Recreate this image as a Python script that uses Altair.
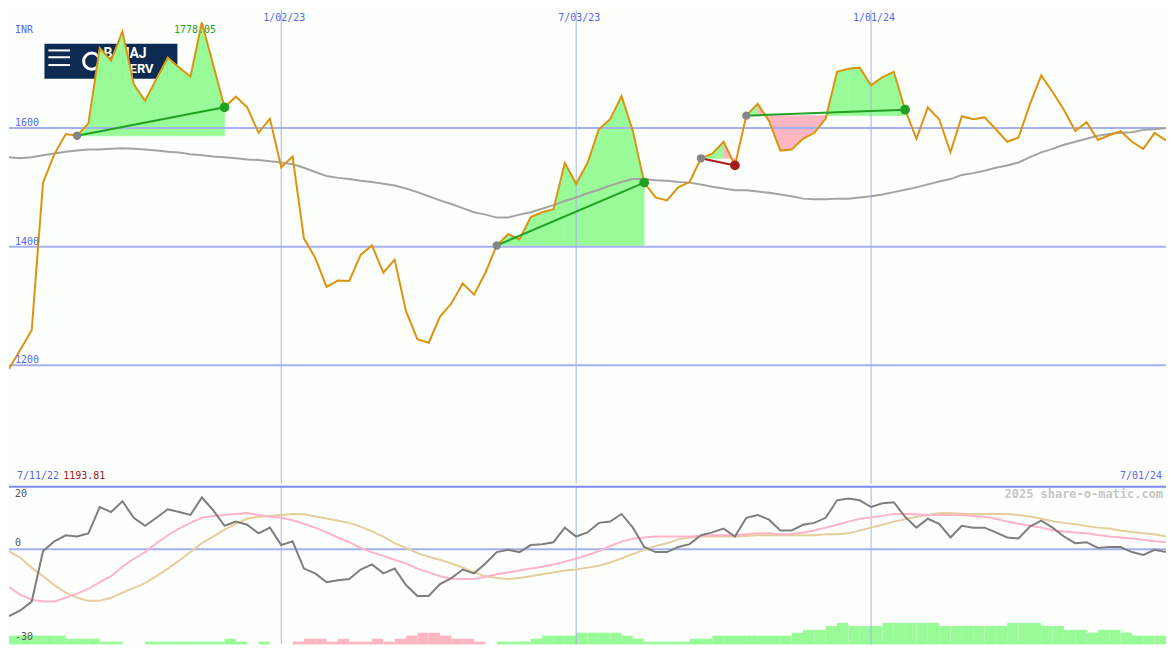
import altair as alt
import pandas as pd

# ---------------- data (weekly, index 0..102) ----------------
price = [1193.81, 1226, 1259, 1508, 1556, 1590, 1587, 1608, 1735, 1714,
         1763, 1674, 1646, 1683, 1719, 1702, 1687, 1778.05, 1707, 1635,
         1653, 1635, 1592, 1616, 1534, 1552, 1414, 1381, 1332, 1343,
         1342, 1386, 1402, 1356, 1378, 1291, 1244, 1238, 1282, 1304,
         1338, 1319, 1356, 1402, 1421, 1412, 1450, 1458, 1463, 1541,
         1506, 1541, 1598, 1615, 1654, 1595, 1508, 1483, 1478, 1500,
         1509, 1549, 1557, 1577, 1537, 1621, 1641, 1612, 1562, 1564,
         1582, 1592, 1616, 1695, 1700, 1702, 1672, 1686, 1695, 1631,
         1582, 1635, 1615, 1559, 1620, 1615, 1618, 1598, 1577, 1584,
         1640, 1689, 1661, 1631, 1595, 1610, 1580, 1588, 1595, 1577,
         1565, 1592, 1579]

ma40 = [1551, 1549, 1551, 1554, 1557, 1560, 1562, 1564, 1564, 1565,
        1566, 1565, 1564, 1562, 1560, 1559, 1556, 1554, 1552, 1551,
        1549, 1547, 1546, 1544, 1542, 1539, 1533, 1526, 1519, 1516,
        1514, 1511, 1509, 1506, 1503, 1498, 1492, 1485, 1478, 1472,
        1465, 1458, 1454, 1449, 1449, 1454, 1458, 1464, 1470, 1477,
        1483, 1490, 1496, 1503, 1509, 1514, 1514, 1512, 1511, 1509,
        1508, 1505, 1501, 1498, 1495, 1495, 1493, 1491, 1488, 1485,
        1481, 1480, 1480, 1481, 1481, 1483, 1485, 1488, 1492, 1496,
        1500, 1505, 1510, 1514, 1521, 1524, 1528, 1533, 1537, 1542,
        1551, 1559, 1565, 1572, 1577, 1582, 1587, 1590, 1592, 1593,
        1597, 1598, 1600]

osc = [-21.1, -19.3, -16.5, -0.6, 2.5, 4.4, 4.0, 5.0, 13.3, 11.7,
       15.1, 9.9, 7.4, 9.9, 12.6, 11.7, 10.8, 16.3, 12.3, 7.4,
       8.7, 7.7, 5.0, 6.8, 1.3, 2.5, -6.1, -7.6, -10.4, -9.8,
       -9.4, -6.4, -4.8, -7.6, -6.1, -11.3, -14.7, -14.7, -11.0, -9.1,
       -6.4, -7.6, -4.5, -0.9, -0.2, -0.9, 1.3, 1.6, 2.2, 6.8,
       4.0, 5.3, 8.3, 8.7, 11.1, 6.8, 0.7, -0.9, -0.9, 0.7,
       1.6, 4.4, 5.3, 6.5, 4.0, 9.9, 10.8, 9.3, 5.9, 5.9,
       7.7, 8.3, 9.9, 15.4, 16.0, 15.4, 13.3, 14.5, 14.8, 10.2,
       6.8, 9.6, 8.0, 3.7, 7.4, 6.8, 6.8, 5.3, 3.7, 3.4,
       7.1, 9.0, 6.8, 4.0, 1.9, 2.2, 0.4, 0.7, 0.7, -0.9,
       -1.8, -0.2, -0.9]

osc_fast = [-11.9, -14.4, -15.9, -16.5, -16.5, -15.3, -14.0, -12.5, -10.4, -8.5,
            -5.5, -3.0, -0.9, 1.9, 4.4, 6.5, 8.3, 9.9, 10.5, 10.8,
            11.1, 11.4, 10.8, 10.3, 9.9, 9.1, 8.0, 6.8, 5.3, 3.7,
            2.2, 0.4, -1.0, -2.1, -3.3, -4.5, -6.1, -7.3, -8.5, -9.3,
            -9.4, -9.4, -8.7, -7.9, -7.3, -6.7, -6.1, -5.5, -4.8, -3.9,
            -3.0, -1.8, -0.6, 1.0, 2.4, 3.3, 3.7, 4.0, 4.0, 4.0,
            4.0, 4.2, 4.4, 4.4, 4.4, 4.7, 5.0, 5.0, 4.7, 4.8,
            5.3, 5.9, 6.8, 7.7, 8.7, 9.6, 10.0, 10.5, 11.1, 11.1,
            11.0, 10.8, 10.8, 10.8, 10.8, 10.5, 10.2, 9.6, 8.7, 8.0,
            7.4, 6.8, 6.0, 5.6, 5.3, 5.0, 4.5, 4.0, 3.7, 3.4,
            3.0, 2.5, 2.2]

osc_slow = [-0.6, -2.7, -5.8, -8.5, -11.3, -13.7, -15.3, -16.2, -16.2, -15.3,
            -13.7, -12.2, -10.7, -8.5, -6.1, -3.6, -0.9, 1.9, 4.0, 6.2,
            8.0, 9.6, 10.2, 10.5, 10.8, 11.1, 11.0, 10.3, 9.7, 9.0,
            8.3, 7.1, 5.6, 4.0, 1.9, 0.4, -1.2, -2.4, -3.3, -4.5,
            -5.8, -7.3, -8.5, -9.1, -9.4, -9.1, -8.5, -7.9, -7.3, -6.7,
            -6.4, -5.8, -5.2, -4.2, -2.9, -1.5, -0.2, 1.0, 1.9, 3.1,
            3.7, 3.9, 4.0, 4.0, 4.0, 4.2, 4.4, 4.4, 4.4, 4.4,
            4.4, 4.4, 4.7, 4.7, 5.0, 5.9, 6.8, 7.7, 8.7, 9.4,
            10.2, 10.8, 11.3, 11.4, 11.1, 11.1, 11.1, 11.1, 11.1, 10.8,
            10.3, 9.6, 8.8, 8.3, 7.9, 7.3, 6.8, 6.5, 5.9, 5.4,
            5.0, 4.7, 4.0]

# histogram heights above the panel floor (negative = pink)
hist = [2.8, 2.8, 2.8, 2.8, 2.8, 1.8, 1.8, 1.8, 0.9, 0.9,
        0, 0, 0.9, 0.9, 0.9, 0.9, 0.9, 0.9, 0.9, 1.8,
        0.9, 0, 0.9, 0, 0,
        -0.9, -1.8, -1.8, -0.9, -1.8, -0.9, -0.9, -1.8, -0.9, -1.8,
        -2.8, -3.7, -3.7, -2.8, -1.8, -1.8, -0.9, 0,
        0.9, 0.9, 0.9, 1.8, 2.8, 2.8, 2.8, 3.7, 3.7, 3.7,
        3.7, 2.8, 1.8, 0.9, 0.9, 0.9, 0.9, 1.8, 1.8,
        2.8, 2.8, 2.8, 2.8, 2.8, 2.8, 2.8,
        3.7, 4.6, 4.6, 5.8, 6.75, 5.8, 5.8, 5.8, 6.75, 6.75,
        6.75, 6.75, 6.75, 5.8, 5.8, 5.8, 5.8, 5.8, 5.8, 6.75,
        6.75, 6.75, 5.8, 5.8, 4.6, 4.6, 3.7, 4.6, 4.6, 3.7,
        2.8, 2.8, 2.8]

seg_start = [6, 43, 61, 65]
seg_end = [19, 56, 64, 79]

grid_prices = [1200, 1400, 1600]
grid_price_labels = ["1200", "1400", "1600"]
grid_weeks = [24, 50, 76]
grid_dates = ["1/02/23", "7/03/23", "1/01/24"]

# ---------------- styling ----------------
W, H_TOP, H_BOT = 1159, 475, 159
SX, SY = W / 1175, (H_TOP + H_BOT) / 650
BG = "#FDFFFD"
GRID = "#A4B0F0"
SEP = "#7C88F2"
BLUE_TXT = "#5468EE"
ORANGE = "#DA9410"
MA_GRAY = "#A3A3A3"
GREEN_FILL = "#98FB98"
PINK_FILL = "#FFB6C1"
GREEN_LINE = "#22A022"
RED_LINE = "#A51C1C"
MONO = "DejaVu Sans Mono"

df = pd.DataFrame({"k": list(range(len(price))), "price": price, "ma": ma40,
                   "osc": osc, "fast": osc_fast, "slow": osc_slow})

xs = alt.Scale(domain=[0, 102], nice=False, zero=False)
ys = alt.Scale(domain=[1000, 1800], nice=False, zero=False)
bs = alt.Scale(domain=[-30, 20], nice=False, zero=False)
one = pd.DataFrame({"a": [0]})


def px(v):
    return alt.value(v * SX)


def py(v):
    return alt.value(v * SY)


def pyb(v):
    return alt.value((v - 487) * SY)


def label(text, x, y, color, align="left", size=10, weight="normal", bottom=False):
    return alt.Chart(one).mark_text(
        text=text, align=align, baseline="middle", font=MONO, fontSize=size,
        fontWeight=weight, color=color
    ).encode(x=px(x), y=(pyb(y) if bottom else py(y)))


# ---------------- top panel ----------------
fill_rows = []
for s, e in zip(seg_start, seg_end):
    base = price[s]
    for i in range(s, e):
        col = GREEN_FILL if price[i + 1] >= base else PINK_FILL
        for j in (i, i + 1):
            fill_rows.append({"k": j, "p": price[j], "b": base, "g": f"{s}-{i}", "c": col})
fills = alt.Chart(pd.DataFrame(fill_rows)).mark_area(interpolate="linear", strokeWidth=0.6, clip=True).encode(
    x=alt.X("k:Q", scale=xs, axis=None),
    y=alt.Y("p:Q", scale=ys, axis=None, stack=None),
    y2="b:Q",
    color=alt.Color("c:N", scale=None),
    stroke=alt.Stroke("c:N", scale=None),
    detail="g:N",
)

trend_rows, start_rows, end_rows = [], [], []
for s, e in zip(seg_start, seg_end):
    col = GREEN_LINE if price[e] >= price[s] else RED_LINE
    trend_rows += [{"k": s, "p": price[s], "g": s, "c": col}, {"k": e, "p": price[e], "g": s, "c": col}]
    start_rows.append({"k": s, "p": price[s]})
    end_rows.append({"k": e, "p": price[e], "c": col})

trend = alt.Chart(pd.DataFrame(trend_rows)).mark_line(strokeWidth=2).encode(
    x=alt.X("k:Q", scale=xs, axis=None), y=alt.Y("p:Q", scale=ys, axis=None),
    color=alt.Color("c:N", scale=None), detail="g:N")
start_pts = alt.Chart(pd.DataFrame(start_rows)).mark_circle(size=70, color="#858585", opacity=1).encode(
    x=alt.X("k:Q", scale=xs, axis=None), y=alt.Y("p:Q", scale=ys, axis=None))
end_pts = alt.Chart(pd.DataFrame(end_rows)).mark_circle(size=95, opacity=1).encode(
    x=alt.X("k:Q", scale=xs, axis=None), y=alt.Y("p:Q", scale=ys, axis=None),
    color=alt.Color("c:N", scale=None))

hgrid_df = pd.DataFrame({"p": grid_prices, "t": grid_price_labels})
vgrid_df = pd.DataFrame({"k": grid_weeks, "t": grid_dates})
hgrid = alt.Chart(hgrid_df).mark_rule(color=GRID, strokeWidth=2).encode(
    y=alt.Y("p:Q", scale=ys, axis=None))
hgrid_lbl = alt.Chart(hgrid_df).mark_text(align="left", baseline="alphabetic", dy=-2, font=MONO,
                                          fontSize=10, color=BLUE_TXT).encode(
    x=px(6), y=alt.Y("p:Q", scale=ys, axis=None), text="t:N")
vgrid = alt.Chart(vgrid_df).mark_rule(color=GRID, strokeWidth=1).encode(
    x=alt.X("k:Q", scale=xs, axis=None))
vgrid_lbl = alt.Chart(vgrid_df).mark_text(align="center", baseline="middle", dx=3, font=MONO,
                                          fontSize=10, color=BLUE_TXT).encode(
    x=alt.X("k:Q", scale=xs, axis=None), y=py(9), text="t:N")

# logo block
logo = [alt.Chart(one).mark_rect(color="#0C2A52").encode(x=px(36), x2=px(171), y=py(35), y2=py(71))]
for yy in (42, 49, 57):
    logo.append(alt.Chart(one).mark_rule(color="white", strokeWidth=2).encode(
        x=px(40), x2=px(62), y=py(yy)))
logo.append(alt.Chart(one).mark_point(shape="circle", filled=False, color="white", strokeWidth=3, size=260,
                                      opacity=1).encode(x=px(84), y=py(53)))
logo.append(alt.Chart(one).mark_text(text="BAJAJ", align="left", baseline="middle", font="Roboto",
                                     fontSize=14, fontWeight="bold", color="white").encode(x=px(96), y=py(46)))
logo.append(alt.Chart(one).mark_text(text="FINSERV", align="left", baseline="middle", font="Roboto",
                                     fontSize=13, fontWeight="bold", color="white").encode(x=px(94), y=py(61)))

ma_line = alt.Chart(df).mark_line(color=MA_GRAY, strokeWidth=2, clip=True).encode(
    x=alt.X("k:Q", scale=xs, axis=None), y=alt.Y("ma:Q", scale=ys, axis=None))
price_line = alt.Chart(df).mark_line(color=ORANGE, strokeWidth=2, clip=True).encode(
    x=alt.X("k:Q", scale=xs, axis=None), y=alt.Y("price:Q", scale=ys, axis=None))

top = alt.layer(
    *logo, fills, hgrid, vgrid, ma_line, price_line, trend, start_pts, end_pts,
    hgrid_lbl, vgrid_lbl,
    label("INR", 6, 21, BLUE_TXT),
    label("1778.05", 189, 21, "#1E9E1E", align="center"),
    label("7/11/22", 8, 479, BLUE_TXT),
    label("1193.81", 55, 479, "#A01818"),
    label("7/01/24", 1171, 479, BLUE_TXT, align="right"),
).properties(width=W, height=H_TOP)

# ---------------- bottom panel ----------------
bar_rows = []
for i, h in enumerate(hist):
    if h != 0:
        bar_rows.append({"k": i, "k2": i + 1, "lo": -30, "hi": -30 + abs(h),
                         "c": GREEN_FILL if h > 0 else PINK_FILL})
bars = alt.Chart(pd.DataFrame(bar_rows)).mark_rect().encode(
    x=alt.X("k:Q", scale=xs, axis=None), x2="k2:Q",
    y=alt.Y("lo:Q", scale=bs, axis=None), y2="hi:Q",
    color=alt.Color("c:N", scale=None))

zero_df = pd.DataFrame({"v": [0]})
zero_line = alt.Chart(zero_df).mark_rule(color=GRID, strokeWidth=2).encode(
    y=alt.Y("v:Q", scale=bs, axis=None))
vgrid_b = alt.Chart(vgrid_df).mark_rule(color=GRID, strokeWidth=1).encode(
    x=alt.X("k:Q", scale=xs, axis=None))
sep = alt.Chart(one).mark_rule(color=SEP, strokeWidth=2).encode(x=alt.value(0), x2=alt.value(W), y=alt.value(1))

slow_line = alt.Chart(df).mark_line(color="#E6CE9C", strokeWidth=2, clip=True).encode(
    x=alt.X("k:Q", scale=xs, axis=None), y=alt.Y("slow:Q", scale=bs, axis=None))
fast_line = alt.Chart(df).mark_line(color="#FFB3C8", strokeWidth=2, clip=True).encode(
    x=alt.X("k:Q", scale=xs, axis=None), y=alt.Y("fast:Q", scale=bs, axis=None))
osc_line = alt.Chart(df).mark_line(color="#7E7E7E", strokeWidth=2, clip=True).encode(
    x=alt.X("k:Q", scale=xs, axis=None), y=alt.Y("osc:Q", scale=bs, axis=None))

bottom = alt.layer(
    bars, vgrid_b, zero_line, sep, slow_line, fast_line, osc_line,
    label("20", 6, 496, "#555555", bottom=True),
    label("0", 6, 546, "#555555", bottom=True),
    label("-30", 6, 642, "#555555", bottom=True),
    label("2025 share-o-matic.com", 1172, 496, "#C6C6C6", align="right", size=12, weight="bold", bottom=True),
).properties(width=W, height=H_BOT)

chart = alt.vconcat(top, bottom, spacing=0).properties(
    padding=0, background=BG
).configure_view(strokeWidth=0)

chart.save("out.html", embed_options={"renderer": "svg", "actions": False})
